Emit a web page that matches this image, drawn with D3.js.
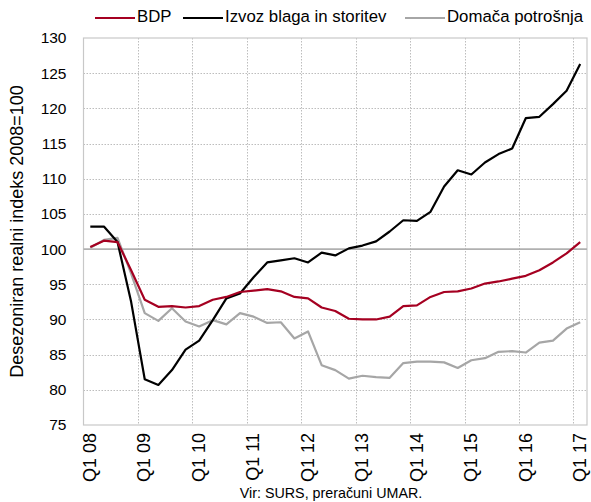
<!DOCTYPE html>
<html>
<head>
<meta charset="utf-8">
<script src="https://cdn.jsdelivr.net/npm/d3@7"></script>
<style>
  body { margin: 0; background: #fff; }
  text { font-family: "Liberation Sans", Arial, sans-serif; fill: #000; }
</style>
</head>
<body>
<div class="chart"></div>
<script>
// quarters Q1 08 .. Q1 17
const quarters = [];
for (let y = 8; y <= 17; y++) {
    for (let q = 1; q <= 4; q++) {
        if (y == 17 && q > 1) break;
        quarters.push("Q" + q + " " + (y < 10 ? "0" + y : y));
    }
}

const bdp = [100.3, 101.2, 101.0, 97.0, 92.8, 91.8, 91.9, 91.7, 91.9, 92.8,
    93.2, 93.9, 94.1, 94.3, 94.0, 93.2, 93.0, 91.7, 91.2, 90.1,
    90.0, 90.0, 90.4, 91.9, 92.0, 93.2, 93.9, 94.0, 94.4, 95.1,
    95.4, 95.8, 96.2, 97.0, 98.1, 99.4, 101.0];

const izvoz = [103.2, 103.2, 101.0, 92.5, 81.5, 80.7, 82.8, 85.7, 87.0, 89.9,
    93.0, 93.7, 96.0, 98.1, 98.4, 98.7, 98.1, 99.5, 99.1, 100.1,
    100.5, 101.1, 102.5, 104.1, 104.0, 105.3, 108.9, 111.2, 110.6, 112.3,
    113.5, 114.3, 118.6, 118.8, 120.6, 122.5, 126.3];

const potrosnja = [100.2, 101.3, 101.6, 96.5, 90.9, 89.8, 91.6, 89.7, 89.0, 89.9,
    89.3, 90.9, 90.4, 89.5, 89.6, 87.3, 88.3, 83.5, 82.8, 81.6,
    82.0, 81.8, 81.7, 83.8, 84.0, 84.0, 83.9, 83.1, 84.2, 84.5,
    85.4, 85.5, 85.3, 86.7, 87.0, 88.7, 89.6];

const seriesNames = ["BDP", "Izvoz blaga in storitev", "Domača potrošnja"];
const seriesColors = ["#a50021", "#000000", "#a6a6a6"];
const yTicks = [75, 80, 85, 90, 95, 100, 105, 110, 115, 120, 125, 130];
const xLabels = quarters.filter(d => d.startsWith("Q1"));

const W = 591, H = 502;
const plot = {left: 83.5, right: 587, top: 38, bottom: 425};

const svg = d3.select('.chart')
    .append('svg')
    .attr("width", W)
    .attr("height", H);

const xScale = d3.scaleBand()
    .domain(quarters)
    .range([plot.left, plot.right])
    .padding(0);

const yScale = d3.scaleLinear()
    .domain([75, 130])
    .range([plot.bottom, plot.top]);

const bw = xScale.bandwidth();

// gridlines
svg.append("g")
    .selectAll("line")
    .data(yTicks.filter(d => d != 75 && d != 130 && d != 100))
    .enter()
    .append("line")
    .attr("x1", plot.left).attr("x2", plot.right)
    .attr("y1", d => Math.round(yScale(d)) + 0.5)
    .attr("y2", d => Math.round(yScale(d)) + 0.5)
    .attr("stroke", "#bdbdbd")
    .attr("stroke-dasharray", "1.5,1.5");

svg.append("g")
    .selectAll("line")
    .data(xLabels.slice(1))
    .enter()
    .append("line")
    .attr("x1", d => Math.round(xScale(d)) + 0.5)
    .attr("x2", d => Math.round(xScale(d)) + 0.5)
    .attr("y1", plot.top).attr("y2", plot.bottom)
    .attr("stroke", "#bdbdbd")
    .attr("stroke-dasharray", "1.5,1.5");

// frame
svg.append("rect")
    .attr("x", plot.left).attr("y", plot.top)
    .attr("width", plot.right - plot.left)
    .attr("height", plot.bottom - plot.top)
    .attr("fill", "none")
    .attr("stroke", "#c8c8c8")
    .attr("stroke-width", 1.2);

// 100 line
svg.append("line")
    .attr("x1", plot.left).attr("x2", plot.right)
    .attr("y1", yScale(100)).attr("y2", yScale(100))
    .attr("stroke", "#b0b0b0")
    .attr("stroke-width", 1.8);

// y axis labels
const yAxis = d3.axisLeft(yScale)
    .tickValues(yTicks)
    .tickSize(0)
    .tickPadding(17);

const yAxisDisplay = svg.append("g")
    .attr("transform", `translate(${plot.left},0)`)
    .call(yAxis);
yAxisDisplay.select(".domain").remove();
yAxisDisplay.selectAll("text")
    .attr("font-size", 15.5)
    .attr("font-family", "Liberation Sans, Arial, sans-serif");

// x axis labels
const xAxisDisplay = svg.append("g")
    .selectAll("text")
    .data(xLabels)
    .enter()
    .append("text")
    .attr("transform", d => `translate(${xScale(d) + bw / 2 + 1},${plot.bottom + 8}) rotate(-90)`)
    .attr("text-anchor", "end")
    .attr("dominant-baseline", "middle")
    .attr("font-size", 18)
    .text(d => d);

// lines
const lineGen = d3.line()
    .x((d, i) => xScale(quarters[i]) + bw / 2)
    .y(d => yScale(d));

const allSeries = [bdp, izvoz, potrosnja];
// draw grey first, then black, then red on top
[2, 1, 0].forEach(k => {
    svg.append("path")
        .datum(allSeries[k])
        .attr("d", lineGen)
        .attr("fill", "none")
        .attr("stroke", seriesColors[k])
        .attr("stroke-width", 2.2)
        .attr("stroke-linejoin", "round");
});

// y title
svg.append("text")
    .attr("transform", `translate(18,${(plot.top + plot.bottom) / 2}) rotate(-90)`)
    .attr("text-anchor", "middle")
    .attr("dominant-baseline", "middle")
    .attr("font-size", 18)
    .text("Desezoniran realni indeks 2008=100");

// legend
const legendX = [95, 183, 405];
const legend = svg.append("g");
legend.selectAll("line")
    .data(seriesNames)
    .enter()
    .append("line")
    .attr("x1", (d, i) => legendX[i])
    .attr("x2", (d, i) => legendX[i] + 40)
    .attr("y1", 18).attr("y2", 18)
    .attr("stroke", (d, i) => seriesColors[i])
    .attr("stroke-width", 2.2);
legend.selectAll("text")
    .data(seriesNames)
    .enter()
    .append("text")
    .attr("x", (d, i) => legendX[i] + 42)
    .attr("y", 18)
    .attr("dominant-baseline", "middle")
    .attr("font-size", 16.8)
    .text(d => d);

// source
svg.append("text")
    .attr("x", 331)
    .attr("y", 498)
    .attr("text-anchor", "middle")
    .attr("font-size", 14.3)
    .text("Vir: SURS, preračuni UMAR.");
</script>
</body>
</html>
